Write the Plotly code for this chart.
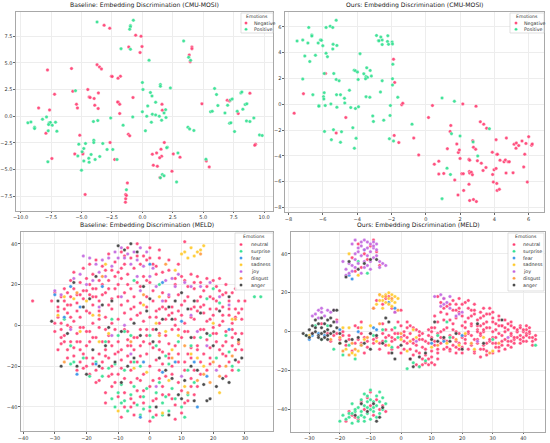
import plotly.graph_objects as go

# ---------------- DATA ----------------
# CMU-MOSI baseline
mosi_base_neg = [(-3.14,8.53),(-2.68,8.25),(-0.55,7.6),(-0.11,7.5),(-1.12,6.5),(-0.03,6.53),(-0.19,5.97),
    (4.07,6.5),(4.07,6.34),(3.85,5.75),(3.93,5.12),(-7.79,4.34),(-5.82,4.47),(-3.72,4.84),(-3.52,4.62),
    (-3.36,4.44),(-2.54,3.75),(-2.48,3.72),(-1.8,3.75),(-2.0,3.56),(-4.48,2.5),(-5.71,2.34),(-3.61,2.19),
    (-7.21,2.06),(-4.37,1.81),(-4.29,1.75),(-3.96,1.66),(-0.77,1.75),(-1.97,1.31),(-2.03,1.33),(-1.86,1.12),
    (1.61,1.12),(-5.41,1.12),(-5.33,0.78),(-3.91,1.03),(-3.63,0.72),(-8.52,0.78),(-7.62,0.59),(1.64,0.56),
    (-1.86,0.25),(-7.92,-1.6),(-5.14,-1.78),(-1.15,-1.69),(-1.04,-1.84),(-2.65,-2.47),(-4.89,-3.44),
    (-4.89,-3.53),(-5.55,-3.53),(-2.27,-4.06),(-7.43,-3.97),(-4.7,-7.34),(1.8,-2.47),(1.53,-3.09),
    (0.82,-3.56),(1.17,-3.44),(1.58,-3.75),(1.42,-3.9),(2.54,-3.53),(3.09,-3.84),(0.9,-4.59),(1.23,-4.69),
    (2.43,-5.16),(1.45,-5.75),(-1.23,-6.25),(-1.37,-7.34),(-1.31,-7.44),(-1.37,-7.75),(-1.39,-8.06),
    (4.89,1.16),(6.97,1.5),(7.16,1.44),(7.87,0.25),(8.83,2.16),(9.29,-2.62),(9.23,-2.72),(5.25,-4.2),
    (5.49,-4.75)]
mosi_base_pos = [(-3.72,8.84),(-0.74,9.0),(-0.98,8.5),(-0.98,8.4),(-1.04,8.16),(3.39,7.06),(-0.98,6.28),
    (-1.75,6.34),(3.8,5.53),(3.96,5.25),(0.55,5.25),(0.0,3.16),(1.48,2.97),(1.48,2.81),(2.3,2.66),
    (0.05,2.5),(-5.49,2.4),(0.66,2.22),(0.79,1.9),(1.09,1.31),(0.44,0.97),(1.91,0.62),(1.78,0.31),
    (0.0,0.41),(0.82,0.19),(1.09,0.12),(0.36,0.0),(1.39,0.0),(-0.79,-0.06),(-2.6,-0.16),(1.94,-0.12),
    (1.58,-0.37),(0.74,-0.56),(-3.66,-0.41),(-4.02,-0.5),(-1.58,-0.84),(-8.2,-0.28),(-7.87,-0.06),
    (-9.4,-0.62),(-9.15,-0.53),(-8.85,-1.03),(-8.85,-1.16),(-7.65,-0.62),(-7.55,-0.58),(-7.7,-0.78),
    (-7.4,-0.84),(-7.13,-0.56),(-7.02,-1.4),(-7.73,-1.37),(0.25,-1.37),(-3.25,-2.56),(-3.99,-2.25),
    (-3.99,-2.47),(-4.67,-2.56),(-5.22,-2.62),(-4.81,-3.03),(-2.43,-3.12),(-2.9,-3.12),(-4.95,-3.34),
    (-5.3,-3.72),(-4.21,-3.59),(-3.5,-3.78),(-4.4,-3.94),(-3.88,-4.06),(-4.81,-4.19),(-4.37,-4.31),
    (-2.08,-4.06),(-7.76,-4.28),(-5.0,-5.06),(2.05,-2.9),(2.0,-2.95),(2.92,-3.44),(1.48,-5.78),
    (1.64,-5.47),(1.78,-5.59),(2.81,-6.16),(-1.31,-6.9),(3.74,-1.03),(3.88,-1.19),(4.23,-1.34),
    (5.93,2.6),(6.09,2.03),(6.2,1.0),(5.6,0.41),(5.74,0.47),(6.78,0.31),(7.24,1.53),(7.38,1.62),
    (7.0,1.03),(7.16,-0.66),(7.27,-0.62),(7.57,-1.44),(7.79,0.47),(8.09,2.19),(8.17,2.28),(8.25,0.66),
    (8.44,1.09),(8.58,1.16),(8.55,-0.44),(8.83,-0.5),(9.15,-0.16),(9.62,-1.75),(9.84,-1.81),(5.22,-4.03)]

# CMU-MOSI ours
mosi_ours_neg = [(-5.84,2.38),(-7.13,0.82),(-4.66,-1.03),(-7.67,-0.69),(-5.22,-2.23),(-1.88,3.49),
    (-1.81,1.69),(-1.4,-0.03),(-1.34,0.08),(-1.84,-2.41),(-1.57,-2.97),(-0.7,-2.62),(-0.41,-3.92),
    (0.16,-1.03),(0.39,-0.1),(2.16,0.03),(2.93,-0.15),(1.46,-1.64),(1.42,-2.1),(1.26,-3.44),(1.81,-3.08),
    (1.9,-3.74),(1.96,-3.54),(2.0,-4.2),(0.5,-4.64),(0.76,-4.41),(0.76,-5.41),(1.05,-5.36),(1.69,-5.87),
    (1.88,-7.03),(2.21,-6.67),(2.1,-5.38),(2.19,-5.38),(2.54,-5.2),(2.56,-5.33),(2.66,-5.26),(2.72,-5.46),
    (2.52,-4.26),(2.56,-4.33),(2.74,-2.82),(2.78,-3.33),(2.91,-3.49),(3.01,-4.38),(3.24,-4.56),(3.34,-5.13),
    (3.51,-4.9),(3.18,-1.36),(3.38,-1.54),(3.55,-1.85),(2.52,-6.2),(2.56,-7.46),(2.78,-7.38),(2.95,-7.54),
    (3.88,-3.72),(4.1,-2.74),(4.14,-3.9),(4.18,-3.88),(4.33,-4.33),(4.56,-4.46),(4.64,-4.31),(4.8,-4.46),
    (4.87,-4.46),(4.7,-2.62),(4.68,-5.33),(3.98,-5.08),(4.1,-4.97),(3.9,-5.44),(3.94,-6.03),(4.14,-6.13),
    (4.16,-6.67),(4.29,-6.59),(5.09,-5.31),(5.15,-3.1),(5.28,-3.0),(5.26,-3.41),(5.42,-3.2),(5.61,-2.85),
    (5.77,-3.87),(5.71,-4.85),(5.84,-3.03),(5.92,-6.03),(6.0,-2.51),(6.17,-3.18),(6.21,-3.08)]
mosi_ours_pos = [(-7.5,4.9),(-7.17,4.97),(-6.82,5.95),(-6.87,4.74),(-6.64,5.36),(-6.64,5.28),(-7.05,3.74),
    (-6.76,3.31),(-6.43,3.79),(-6.27,4.74),(-6.14,4.97),(-6.08,4.95),(-6.0,4.54),(-5.81,5.95),(-5.57,6.05),
    (-5.42,5.95),(-5.22,6.51),(-5.81,3.95),(-5.73,3.69),(-5.4,4.64),(-5.18,4.56),(-5.42,4.28),(-7.17,1.95),
    (-5.92,2.38),(-5.36,2.38),(-5.22,1.92),(-5.05,1.82),(-6.58,0.74),(-5.92,0.9),(-5.96,0.59),(-5.94,0.41),
    (-6.23,-0.1),(-6.23,-0.15),(-5.86,-0.1),(-5.53,0.03),(-5.2,0.74),(-4.97,0.74),(-4.74,0.46),(-4.72,0.1),
    (-5.18,-0.23),(-4.45,1.08),(-4.37,-0.26),(-4.1,-0.33),(-3.92,-0.2),(-5.9,-2.1),(-5.38,-1.97),
    (-4.91,-2.13),(-5.5,-2.74),(-4.97,-2.95),(-4.25,-1.82),(-4.06,-2.64),(-4.16,-3.41),(-4.17,2.64),
    (-4.1,2.59),(-3.98,2.49),(-3.83,3.92),(-3.94,1.92),(-3.61,2.36),(-3.44,2.82),(-3.48,2.15),(-3.4,2.08),
    (-3.51,1.97),(-3.24,2.62),(-3.17,2.18),(-3.48,0.59),(-3.26,0.54),(-3.09,-0.9),(-3.05,-1.33),
    (-2.87,5.33),(-2.62,5.21),(-2.76,4.92),(-2.72,4.92),(-2.54,4.97),(-2.54,4.62),(-2.21,5.31),(-2.23,4.87),
    (-2.17,4.64),(-1.96,4.82),(-1.94,4.67),(-1.92,3.1),(-2.54,1.82),(-1.94,1.97),(-1.94,1.49),(-2.64,0.95),
    (-1.63,0.54),(-2.06,-0.1),(-2.08,-0.87),(-2.45,-1.23),(-2.12,-2.67),(-1.88,-2.85),(-0.8,-1.54),
    (0.95,0.49),(1.67,0.23),(1.5,-2.28),(2.0,-2.46),(1.24,-4.95),(1.44,-5.44),(0.95,-7.31),(2.76,-2.92),
    (3.03,-4.0),(3.71,-1.9)]

# MELD baseline
meld_base = {
"neutral": [(-28,14),(-26,16),(-24,18),(-22,21),(-20,23),(-18,25),(-25,22),(-23,11),(-27,8),(-29,4),(-26,6),
    (-24,2),(-28,-2),(-30,1),(-27,-5),(-25,-8),(-23,-4),(-21,-1),(-22,4),(-20,7),(-18,10),(-16,12),(-19,15),
    (-21,13),(-17,18),(-15,20),(-13,22),(-14,16),(-12,13),(-11,18),(-10,20),(-9,23),(-16,7),(-14,4),(-12,1),
    (-10,3),(-18,1),(-19,-3),(-17,-6),(-15,-8),(-13,-5),(-11,-2),(-20,-10),(-22,-12),(-24,-15),(-22,-18),
    (-20,-20),(-18,-16),(-16,-14),(-14,-12),(-12,-10),(-10,-8),(-23,-22),(-19,-24),(-17,-22),(-15,-18),
    (-26,-12),(-28,-9),(-25,-1),(-29,9),(-31,12),(-27,12),(-24,26),(-21,28),(-19,30),(-17,32),(-15,29),
    (-12,27),(-10,26),(-8,30),(-6,33),(-11,31),(-13,35),(-9,36),(-7,25),(-5,28),(-3,30),(-2,24),(-4,21),
    (-6,18),(-8,16),(-7,12),(-5,9),(-3,11),(-1,14),(1,17),(0,21),(2,25),(-2,34),(0,38),(1,30),(3,33),
    (-8,6),(-6,3),(-4,5),(-2,2),(0,4),(2,7),(4,9),(6,5),(3,1),(1,-2),(-1,-5),(-3,-2),(-5,-6),(-7,-3),(-9,-12),
    (-7,-15),(-5,-12),(-3,-10),(-1,-14),(1,-11),(3,-8),(5,-5),(7,-2),(8,3),(6,-9),(4,-13),(2,-17),(0,-20),
    (-2,-24),(-4,-18),(-6,-22),(-8,-26),(-10,-24),(-12,-20),(-13,-16),(-11,-14),(-12,-30),(-10,-35),
    (-8,-40),(-6,-36),(-4,-32),(-2,-38),(0,-42),(2,-36),(4,-30),(6,-34),(8,-39),(10,-43),(12,-37),(0,-47),
    (-5,-44),(-14,-38),(-3,-27),(5,-25),(9,-28),(11,-22),(13,-26),(15,-30),(7,-20),(10,10),(12,14),(14,18),
    (16,21),(18,19),(20,22),(22,17),(24,20),(26,16),(28,12),(30,12),(27,8),(25,5),(23,9),(21,12),(19,14),
    (17,10),(15,7),(13,4),(11,1),(12,-3),(14,-6),(16,-2),(18,2),(20,5),(22,0),(24,-3),(26,-6),(28,-9),
    (21,-8),(19,-11),(17,-14),(15,-12),(13,-16),(11,-18),(23,-14),(25,-18),(27,-12),(9,15),(11,22),(13,25),
    (15,24),(8,20),(6,14),(4,16),(10,-6),(8,-10),(9,-14),(11,41),(17,17),(19,8),(25,12),(29,-4),(26,1),
    (20,-4),(22,-20),(24,-25),(18,-22),(16,-18),(14,-22),(-37,12),(-20,-3),(-16,-1),(-14,-2),(-25,10),
    (-23,15),(-12,8),(-9,10),(-6,-10),(-4,-26),(3,-22),(-28,-6),(-30,16),(-26,0),(-22,-8),(-18,-6),
    (-16,-27),(-21,-21),(-9,-17),(-7,-7),(-3,6),(5,12),(7,9),(10,5),(14,9),(21,19),(23,15),(27,18),
    (29,3),(23,-10),(26,-22),(19,-16),(13,-11),(7,-24),(1,-27),(-6,-28),(-14,-33),(-18,14),(-13,10),
    (-8,-2),(-1,9),(3,-4),(9,-2),(16,14),(-20,17),(-28,1),
    (-27,18),(-25,14),(-23,7),(-21,17),(-19,20),(-17,14),(-15,15),(-13,18),(-11,24),(-9,28),(-7,20),
    (-5,14),(-3,19),(-1,22),(1,12),(3,8),(5,3),(7,6),(9,7),(11,12),(13,8),(15,12),(17,6),(19,3),(21,8),
    (23,5),(25,8),(27,4),(29,8),(24,16),(22,23),(18,23),(14,21),(12,19),(10,24),(8,23),(6,27),(4,26),
    (2,29),(0,33),(-4,34),(-8,34),(-14,27),(-16,22),(-18,18),(-22,15),(-26,10),(-29,7),(-30,-3),(-27,-8),
    (-24,-11),(-21,-14),(-18,-19),(-15,-21),(-12,-24),(-9,-21),(-6,-18),(-3,-15),(0,-9),(3,-12),(6,-14),
    (9,-18),(12,-14),(15,-10),(18,-7),(21,-4),(24,-8),(27,-4),(29,-12),(26,-10),(22,-12),(19,-19),
    (16,-24),(13,-30),(10,-32),(7,-36),(4,-34),(1,-37),(-2,-32),(-5,-38),(-8,-33),(-11,-28),(-13,-25),
    (-17,-28),(-20,-16),(-23,-8),(-25,4),(-22,-1),(-19,6),(-16,3),(-13,-8),(-10,-13),(-7,-10),(-4,-6),
    (-1,-2),(2,4),(5,8),(8,0),(11,-3),(14,3),(17,-2),(20,-1),(23,2),(26,-2),(28,6),(6,-16),(3,-26),
    (0,-30),(-3,-35),(-6,-40),(-9,-45),(2,-44),(8,-46),(11,-38),(14,-34),(-4,40),(-7,38),(-1,32),(3,37),
    (6,32),(9,30),(-10,14),(-6,8),(-2,-8),(4,-19),(-14,-15),(-19,-8),(-26,-16),(-29,-12),(20,13),(16,9),
    (24,-15),(28,-18)],
"surprise": [(-10,-33),(-8,-37),(-6,-34),(-4,-39),(-2,-35),(0,-40),(2,-33),(4,-38),(6,-42),(8,-36),(10,-40),
    (-7,-42),(-3,-44),(1,-45),(-9,-29),(-5,-30),(3,-28),(7,-31),(12,-34),(-12,-36),(-1,-31),(5,-35),(11,-45),
    (-11,-40),(-25,-10),(-24,-18),(-21,-16),(-19,-25),(-17,-18),(-13,-21),(-15,-25),(-11,-19),(-8,-22),
    (-5,-18),(-3,-20),(-14,-8),(-6,-5),(-8,-3),(-12,3),(2,-10),(5,-15),(9,-8),(13,-10),(16,-6),(19,-5),
    (21,-16),(25,-13),(26,-20),(28,-22),(24,-5),(22,11),(20,18),(18,13),(33,14),(35,14),(-27,3),(-25,-19),
    (-5,22),(3,20),(12,-22),(14,-28),(0,-5),(-10,-5),(6,-19),(-2,-41),(4,-44),(-9,-38)],
"fear": [(-30,15),(-27,4),(-25,19),(-22,9),(-15,19),(-23,-24),(0,30),(4,21),(-2,-18),(4,-23),(8,-18),
    (14,-18),(18,-25),(25,-2),(-3,-45),(-17,-19),(15,-40),(10,2)],
"sadness": [(11,36),(13,38),(14,34),(15,36),(16,37),(12,33),(17,39),(10,35),(-29,5),(-27,14),(-24,13),
    (-20,12),(-18,5),(-16,-8),(-13,-4),(-22,-3),(-2,10),(2,1),(5,-3),(7,-12),(9,-5),(13,-14),(17,-20),
    (22,-33),(26,3),(-10,-42),(-1,-23),(4,-43),(15,-16),(11,-30),(8,27),(-14,30),(3,14),(20,1),(-5,-21),
    (6,-27)],
"joy": [(-21,34),(-19,33),(-17,30),(-15,32),(-13,33),(-11,36),(-9,38),(-7,35),(-5,36),(-3,38),(-1,36),
    (-6,30),(-4,32),(-8,33),(-12,29),(-16,26),(-18,22),(-14,24),(-20,20),(-22,25),(-24,23),(-2,29),(0,24),
    (-4,24),(1,28),(-10,33),(-25,-2),(-28,15),(-30,17),(5,22),(7,23),(9,25),(11,21),(13,19),(8,19),(6,15),
    (4,12),(2,19),(-3,17),(-9,14),(16,19),(19,21),(22,14),(25,10),(13,5),(15,-3),(10,-25),(18,-10),(-8,0),
    (-12,-5),(-6,-14),(21,-22),(2,-30),(-16,9)],
"disgust": [(-27,-18),(-23,16),(-16,5),(-6,-8),(-2,15),(3,-5),(7,-16),(11,-10),(15,-27),(17,-24),(20,-18),
    (22,-25),(24,-20),(26,-15),(28,-8),(16,35),(-15,24),(5,30),(12,-33),(19,-28),(27,3)],
"anger": [(-31,2),(-29,12),(-26,-4),(-23,-20),(-21,9),(-19,13),(-17,24),(-15,10),(-13,-1),(-11,-18),
    (-9,-28),(-7,-20),(-5,-16),(-3,-5),(-1,7),(1,-8),(3,-16),(5,-22),(7,-26),(9,-34),(11,-27),(13,-20),
    (15,-22),(17,-29),(19,-36),(21,-30),(23,-26),(25,-28),(27,-17),(29,-16),(18,-4),(16,6),(14,12),(12,8),
    (10,16),(8,12),(6,9),(4,3),(2,-2),(0,13),(-2,19),(-4,36),(-6,40),(-8,37),(-10,39),(-12,12),(-14,-10),
    (-16,-20),(-18,-12),(-20,-24),(-24,21),(-28,-20),(2,-40),(6,-44),(10,-36),(14,-37),(18,-37),(22,7),
    (25,14),(28,-7),(20,-10),(-5,1),(7,3),(-9,-3),(13,-6)],
}

# MELD ours
meld_ours = {
"neutral": [(-8,-3),(-6,-5),(-4,-2),(-2,-4),(0,-3),(2,-6),(4,-4),(6,-2),(8,-5),(10,-3),(12,-1),(14,-4),
    (16,-2),(18,-5),(20,-3),(22,-1),(24,-4),(26,-2),(28,-6),(30,-3),(32,-1),(34,-4),(36,-2),(38,0),(40,-3),
    (42,-1),(44,-2),(-5,-7),(-1,-8),(3,-9),(7,-8),(11,-7),(15,-8),(19,-9),(23,-7),(27,-9),(31,-8),(35,-7),
    (39,-6),(43,-5),(1,0),(5,1),(9,1),(13,0),(17,1),(21,2),(25,1),(29,2),(33,3),(37,2),(41,1),(-3,1),(0,3),
    (3,3),(7,-1),(11,2),(15,2),(19,-1),(23,3),(27,0),(31,1),(35,1),(39,3),(42,2),(44,-4),(43,-7),(41,-5),
    (37,-4),(33,-5),(29,-5),(25,-6),(21,-6),(17,-7),(13,-6),(9,-6),(5,-7),(1,-5),(-3,-5),(20,-11),(24,-11),
    (28,-12),(32,-10),(26,-13),(30,-11),(22,-9),(12,18),(13,15),(14,12),(15,9),(16,6),(18,14),(19,10),
    (20,8),(21,5),(22,12),(24,9),(25,6),(26,10),(27,8),(28,5),(29,9),(30,7),(31,4),(32,6),(26,3),(24,14),
    (22,16),(18,7),(17,11),(20,3),(23,4),(33,3),(35,4),(37,2),(38,0),(39,2),(40,0),(41,3),(39,-2),(40,1),
    (34,0),(36,-1),(29,12),(27,4),(30,10),(28,2),(25,0),(14,17),(16,14),(11,8),(12,5),(19,12),(21,15),
    (5,-17),(6,-18),(7,-17),(8,-16),(9,-17),(10,-16),(11,-17),(7,-14),(9,-14),(4,-12),(6,-11),(3,-14),
    (-10,-1),(-12,-3),(-9,-6),(-14,-4),(-11,-8),(-7,-9),(-13,-1),(-5,1),(-6,4),(-4,-11),(-2,-1),(0,-11),
    (2,2),(-15,-6),(-16,-10),(-18,-7),(-20,-4),(-22,-2),(-24,-1),(-17,-2),(-19,0),(-14,2),(-13,5),(-15,3),
    (-21,6),(-26,4),(-29,-1),(-23,-5),(-12,-11),(-8,16),(-6,14),(-4,18),(-3,12),(-2,10),(0,11),(-7,19),
    (-5,17),(-9,12),(-14,45),(-12,40),(-10,44),(-8,41),(-11,37),(-13,33),(-16,38),(-9,47),(-7,34),(-15,31),
    (-16,-43),(-14,-45),(-12,-40),(-10,-38),(-8,-35),(-6,-38),(-9,-43),(-17,-41),(-13,-36),(-11,-34),
    (-18,-46),(-15,-44),(-7,-40),(-5,-41),(-10,-31),(2,5),(4,2),(3,-1),(-1,5),(10,-10),(12,-11),(14,-9),
    (16,-10),(18,-11),(8,-9),(36,3),(38,-3),(42,-3),(34,-9),(30,-6),(26,-9),(18,-8),(32,3),(36,-5),
    (41,-1),(23,11),(27,12),(17,4),(14,6),(10,0),(6,-4),(-1,-1),
    (-6,-1),(-3,-3),(1,-2),(4,-6),(7,-4),(9,-2),(11,-5),(13,-3),(15,-5),(17,-3),(19,-6),(21,-4),(23,-2),
    (25,-4),(27,-7),(29,-4),(31,-6),(33,-2),(35,-5),(37,-3),(39,-4),(41,-2),(43,-3),(2,-3),(6,0),(10,2),
    (14,1),(18,0),(22,0),(26,-1),(30,0),(34,2),(38,1),(42,0),(24,-10),(28,-10),(32,-8),(36,-8),(20,-8),
    (16,-9),(12,-9),(18,11),(20,14),(22,7),(24,11),(26,7),(28,9),(30,5),(32,8),(34,6),(36,5),(15,13),
    (17,16),(19,17),(23,8),(25,3),(13,10),(-9,-4),(-11,-5),(-13,-6),(-7,-6),(-5,-3),(-3,-9),(1,-9),
    (5,-10),(8,-12),(10,-13),(12,-14),(-17,-4),(-19,-2),(-21,-1),(37,-6),(40,-5),(33,-7),(31,-3),(27,1),
    (21,-2)],
"surprise": [(-20,-46),(-18,-45),(-16,-47),(-14,-44),(-12,-46),(-10,-45),(-8,-44),(-19,-43),(-17,-42),
    (-15,-41),(-13,-43),(-11,-42),(-9,-41),(-7,-42),(-6,-40),(-14,-39),(-12,-38),(-10,-40),(-8,-38),
    (-16,-37),(-13,-35),(-11,-36),(-9,-36),(-7,-36),(-11,-33),(-10,-30),(-12,-32),(-8,-33),(-6,-34),
    (-15,-40),(-17,-44),(-9,-39),(-13,-41),(-11,-39),(-5,-37),(-12,-44),(-14,-46),(-10,-35),(-7,-31),
    (-16,-42),(-22,-9),(-19,-12),(-15,-14),(-17,-7),(-26,-4),(-28,3),(-31,-2),(-24,3),(-13,-7),(-9,-2),
    (-5,-5),(-3,-8),(2,-19),(4,-16),(6,-18),(8,-15),(-2,2),(15,5),(16,-3),(30,-4),(44,-7),(-11,30),
    (-14,36),(12,-2),(-6,1),(-1,-3)],
"fear": [(-16,27),(-17,29),(-30,-4),(-27,-1),(-25,-2),(-29,-2),(-20,1),(-9,2),(-8,1),(-4,15),(-2,12),
    (-12,42),(10,-6),(14,-5),(20,-2),(-14,0)],
"sadness": [(-7,19),(-6,18),(-5,19),(-4,17),(-3,19),(-2,18),(-6,16),(-5,15),(-3,16),(-4,14),(-7,16),
    (-2,15),(-8,14),(-6,12),(-4,20),(-1,17),(-3,13),(-18,-9),(-16,-11),(-14,-10),(-15,-12),(-20,-6),
    (-12,-4),(-10,3),(-13,2),(-17,2),(-8,-5),(-4,-7),(0,-4),(5,-3),(15,-6),(21,-1),(24,-9),(27,-3),
    (30,-10),(-19,2),(-17,40),(-14,29),(4,1),(10,-8),(19,-7),(2,-10),(-30,-2)],
"joy": [(-19,36),(-18,32),(-17,35),(-16,34),(-15,40),(-14,43),(-13,46),(-12,47),(-11,46),(-10,45),(-9,46),
    (-8,45),(-13,44),(-11,43),(-9,43),(-14,41),(-12,42),(-10,41),(-8,39),(-13,39),(-11,39),(-9,38),(-15,37),
    (-12,36),(-10,36),(-7,36),(-6,35),(-5,34),(-7,33),(-17,30),(-18,29),(-16,31),(-15,33),(-12,33),(-14,35),
    (-11,34),(-10,32),(-13,30),(-15,47),(-16,45),(-9,44),(-8,42),(-28,9),(-27,11),(-26,10),(-25,8),(-24,11),
    (-23,10),(-29,8),(-27,7),(-26,12),(-22,11),(11,18),(13,19),(14,17),(15,15),(14,14),(13,13),(16,12),
    (19,9),(18,8),(20,10),(16,18),(-21,5),(-2,10),(5,-5),(25,-5),(35,-3)],
"disgust": [(-19,-10),(-17,-12),(-15,-9),(-13,-7),(-16,-6),(-20,-3),(-23,-4),(-5,18),(-3,17),(-9,12),
    (0,-1),(3,-5),(12,-7),(18,-4),(23,-6),(29,-11),(32,-6),(-1,11),(-7,4),(-11,-3)],
"anger": [(-32,-1),(-31,-2),(-30,-3),(-29,-1),(-28,0),(-27,-2),(-26,-1),(-25,0),(-24,-2),(-23,-1),(-22,0),
    (-28,2),(-27,4),(-26,2),(-25,4),(-24,6),(-23,3),(-22,5),(-21,2),(-26,-4),(-24,-4),(-29,3),(-28,6),
    (-26,7),(-23,7),(-22,11),(-21,11),(-24,1),(-27,-3),(-30,1),(-25,-3),(-20,-1),(-18,-5),(-16,-4),
    (-14,-3),(-12,-6),(-10,-1),(-8,-2),(-6,-6),(-10,-9),(-20,-6),(-17,36),(-14,32),(-12,35),(-10,37),
    (-18,28),(-8,37),(-5,7),(-4,5),(-3,-11),(0,-7),(3,-14),(4,-18),(6,-13),(8,-11),(10,-4),(12,-5),
    (14,-3),(16,-5),(18,-1),(11,5),(-15,-43),(-13,-37),(-9,-37),(-7,-44),(-11,-41),(-6,-39),(-8,-46),
    (20,-9),(27,-6),(33,6),(25,4),(-2,-14)],
}

titles = ["Baseline: Embedding Discrimination (CMU-MOSI)", "Ours: Embedding Discrimination (CMU-MOSI)",
          "Baseline: Embedding Discrimination (MELD)", "Ours: Embedding Discrimination (MELD)"]
legend_title = "Emotions"
emotions = ["neutral", "surprise", "fear", "sadness", "joy", "disgust", "anger"]
sentiments = ["Negative", "Positive"]

# ---------------- STYLE ----------------
sent_colors = {"Negative": "#ff3d71", "Positive": "#2fe08f"}
emo_colors = {"neutral": "#ff3d71", "surprise": "#2fe08f", "fear": "#2f8fe8", "sadness": "#ffc928",
              "joy": "#c264e0", "disgust": "#ff9a3c", "anger": "#3a3a3a"}
FONT = "DejaVu Sans"
W, H = 550, 443

domains = [
    ((0.029, 0.496), (0.524, 0.973)),
    ((0.518, 0.989), (0.521, 0.973)),
    ((0.038, 0.496), (0.027, 0.476)),
    ((0.529, 0.991), (0.025, 0.476)),
]
ranges = [((-10.38, 10.71), (-8.875, 9.78)),
          ((-8.21, 6.89), (-8.36, 7.15)),
          ((-40.7, 38.8), (-51.8, 45.7)),
          ((-36.0, 47.1), (-51.5, 51.1))]
dticks = [(2.5, 2.5), (2, 2), (10, 20), (10, 20)]
fmts = [".1f", "d", "d", "d"]
# legend boxes in pixels: (x0, x1, y0, y1, marker_x, text_x, first_entry_y, step)
legend_boxes = [(241, 273, 13, 33, 246, 252, 23.0, 6.3),
                (510, 544, 13, 33, 516, 522, 23.0, 6.3),
                (235, 273, 233, 290, 241, 249, 244.5, 6.75),
                (508, 544, 233, 291, 514, 521, 244.5, 6.75)]

fig = go.Figure()

def add_scatter(pts, name, color, idx):
    suffix = "" if idx == 0 else str(idx + 1)
    fig.add_trace(go.Scatter(
        x=[p[0] for p in pts], y=[p[1] for p in pts], mode="markers", name=name,
        marker=dict(size=3.5, color=color, opacity=0.9, line=dict(width=0.4, color="white")),
        xaxis="x" + suffix, yaxis="y" + suffix, showlegend=False))

add_scatter(mosi_base_neg, "Negative", sent_colors["Negative"], 0)
add_scatter(mosi_base_pos, "Positive", sent_colors["Positive"], 0)
add_scatter(mosi_ours_neg, "Negative", sent_colors["Negative"], 1)
add_scatter(mosi_ours_pos, "Positive", sent_colors["Positive"], 1)
for e in emotions:
    add_scatter(meld_base[e], e, emo_colors[e], 2)
for e in emotions:
    add_scatter(meld_ours[e], e, emo_colors[e], 3)

layout = dict(width=W, height=H, margin=dict(l=0, r=0, t=0, b=0, autoexpand=False),
              paper_bgcolor="white", plot_bgcolor="white",
              font=dict(family=FONT, size=5, color="#333"))

axis_common = dict(showline=True, mirror=True, linecolor="#a8a8a8", linewidth=1,
                   showgrid=True, gridcolor="#ededed", gridwidth=0.6, zeroline=False,
                   ticks="outside", ticklen=1.5, tickcolor="#666", tickwidth=0.6,
                   tickfont=dict(size=5, color="#333", family=FONT), automargin=False)

annotations = []
shapes = []
def px2x(px):
    return px / W
def px2y(py):
    return 1 - py / H

for i in range(4):
    suffix = "" if i == 0 else str(i + 1)
    (dx, dy) = domains[i]
    (rx, ry) = ranges[i]
    layout["xaxis" + suffix] = dict(axis_common, domain=list(dx), range=list(rx), dtick=dticks[i][0],
                                    tickformat=fmts[i], anchor="y" + suffix)
    layout["yaxis" + suffix] = dict(axis_common, domain=list(dy), range=list(ry), dtick=dticks[i][1],
                                    tickformat=fmts[i], anchor="x" + suffix)
    annotations.append(dict(text=titles[i], x=(dx[0] + dx[1]) / 2, y=dy[1] + 0.002, xref="paper",
                            yref="paper", xanchor="center", yanchor="bottom", showarrow=False,
                            font=dict(size=6.1, family=FONT, color="#222")))
    # legend (drawn manually, compact like the reference)
    x0, x1, y0, y1, mx, tx, ey, step = legend_boxes[i]
    shapes.append(dict(type="rect", xref="paper", yref="paper", x0=px2x(x0), x1=px2x(x1),
                       y0=px2y(y1), y1=px2y(y0), line=dict(color="#d2d2d2", width=0.7),
                       fillcolor="rgba(255,255,255,0.85)", layer="above"))
    annotations.append(dict(text=legend_title, x=px2x((x0 + x1) / 2), y=px2y(y0 + 3.6), xref="paper",
                            yref="paper", xanchor="center", yanchor="middle", showarrow=False,
                            font=dict(size=4.6, family=FONT, color="#333")))
    names = sentiments if i < 2 else emotions
    cols = sent_colors if i < 2 else emo_colors
    for k, nm in enumerate(names):
        cy = ey + k * step
        r = 1.5
        shapes.append(dict(type="circle", xref="paper", yref="paper", x0=px2x(mx - r), x1=px2x(mx + r),
                           y0=px2y(cy + r), y1=px2y(cy - r), fillcolor=cols[nm],
                           line=dict(color="white", width=0.3), layer="above"))
        annotations.append(dict(text=nm, x=px2x(tx), y=px2y(cy), xref="paper", yref="paper",
                                xanchor="left", yanchor="middle", showarrow=False,
                                font=dict(size=4.8, family=FONT, color="#333")))

layout["annotations"] = annotations
layout["shapes"] = shapes
fig.update_layout(**layout)
fig.write_html("out.html", config={"displayModeBar": False},
               post_script="document.body.style.margin='0px';document.body.style.overflow='hidden';")
